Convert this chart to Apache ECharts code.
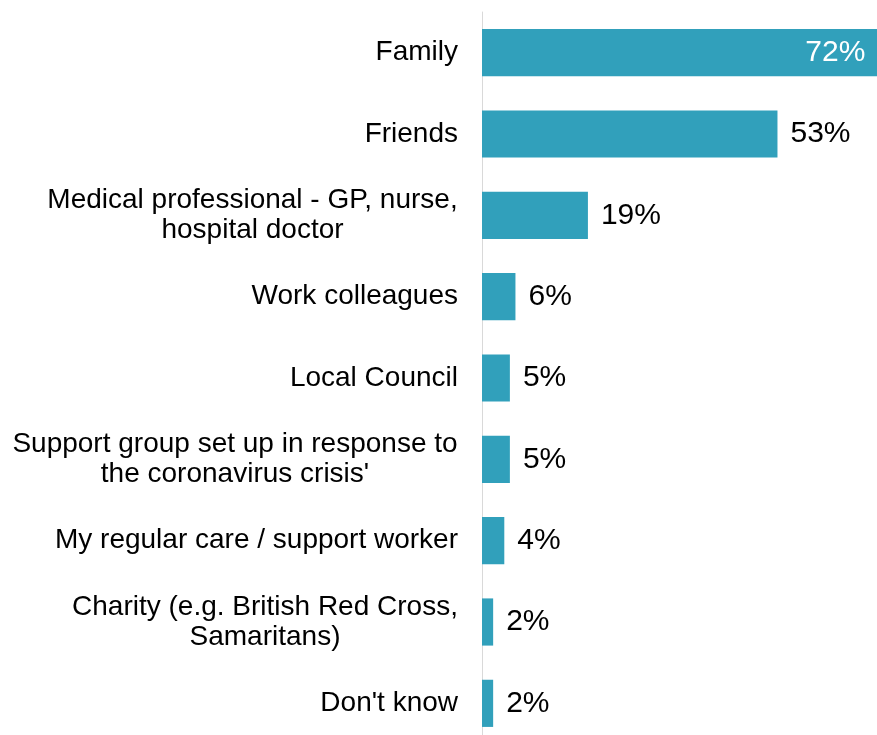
<!DOCTYPE html>
<html>
<head>
<meta charset="utf-8">
<script src="https://cdn.jsdelivr.net/npm/echarts@6/dist/echarts.min.js"></script>
<style>
  html, body { margin: 0; padding: 0; background: #fff; }
  #chart { width: 877px; height: 735px; }
</style>
</head>
<body>
<div id="chart"></div>
<script>
// Sources of support, share of respondents (%)
const categories = [
  'Family',
  'Friends',
  'Medical professional - GP, nurse,\nhospital doctor',
  'Work colleagues',
  'Local Council',
  'Support group set up in response to\nthe coronavirus crisis\'',
  'My regular care / support worker',
  'Charity (e.g. British Red Cross,\nSamaritans)',
  'Don\'t know'
];
const values = [72, 53, 19, 6, 5, 5, 4, 2, 2];

const FONT = '"Liberation Sans", Arial, sans-serif';
const CAT_SIZE = 28;
const VAL_SIZE = 30;
const LINE_H = 30;
const BAR_COLOR = '#31A0BB';

// Measure text so wrapped labels can have their lines centred within the block
const ctx = document.createElement('canvas').getContext('2d');
ctx.font = CAT_SIZE + 'px ' + FONT;
const rich = {};
const labelFor = {};
categories.forEach((c, i) => {
  if (c.indexOf('\n') < 0) return;
  const lines = c.split('\n');
  const w = Math.ceil(Math.max.apply(null, lines.map(l => ctx.measureText(l).width)));
  const key = 'w' + i;
  rich[key] = {
    width: w, align: 'center', fontSize: CAT_SIZE, lineHeight: LINE_H,
    fontFamily: FONT, color: '#000'
  };
  labelFor[c] = lines.map(l => '{' + key + '|' + l + '}').join('\n');
});

const chart = echarts.init(document.getElementById('chart'), null, { renderer: 'canvas' });
chart.setOption({
  animation: false,
  backgroundColor: '#fff',
  grid: { left: 482, top: 12, width: 446, height: 732, outerBoundsMode: 'none', containLabel: false },
  xAxis: {
    type: 'value', min: 0, max: 80, show: false,
    splitLine: { show: false }
  },
  yAxis: {
    type: 'category', data: categories, inverse: true,
    axisLine: { show: true, lineStyle: { color: '#d9d9d9', width: 1 } },
    axisTick: { show: false },
    axisLabel: {
      margin: 24, color: '#000', fontSize: CAT_SIZE, fontFamily: FONT,
      lineHeight: LINE_H, align: 'right',
      formatter: v => labelFor[v] || v,
      rich: rich
    }
  },
  series: [{
    type: 'bar',
    data: values.map((v, i) => i === 0
      ? { value: v, label: { position: 'insideRight', distance: 18, color: '#fff' } }
      : v),
    barCategoryGap: '42%',
    itemStyle: { color: BAR_COLOR },
    label: {
      show: true, position: 'right', distance: 13,
      formatter: p => p.value + '%',
      color: '#000', fontSize: VAL_SIZE, fontFamily: FONT
    }
  }]
});
</script>
</body>
</html>
